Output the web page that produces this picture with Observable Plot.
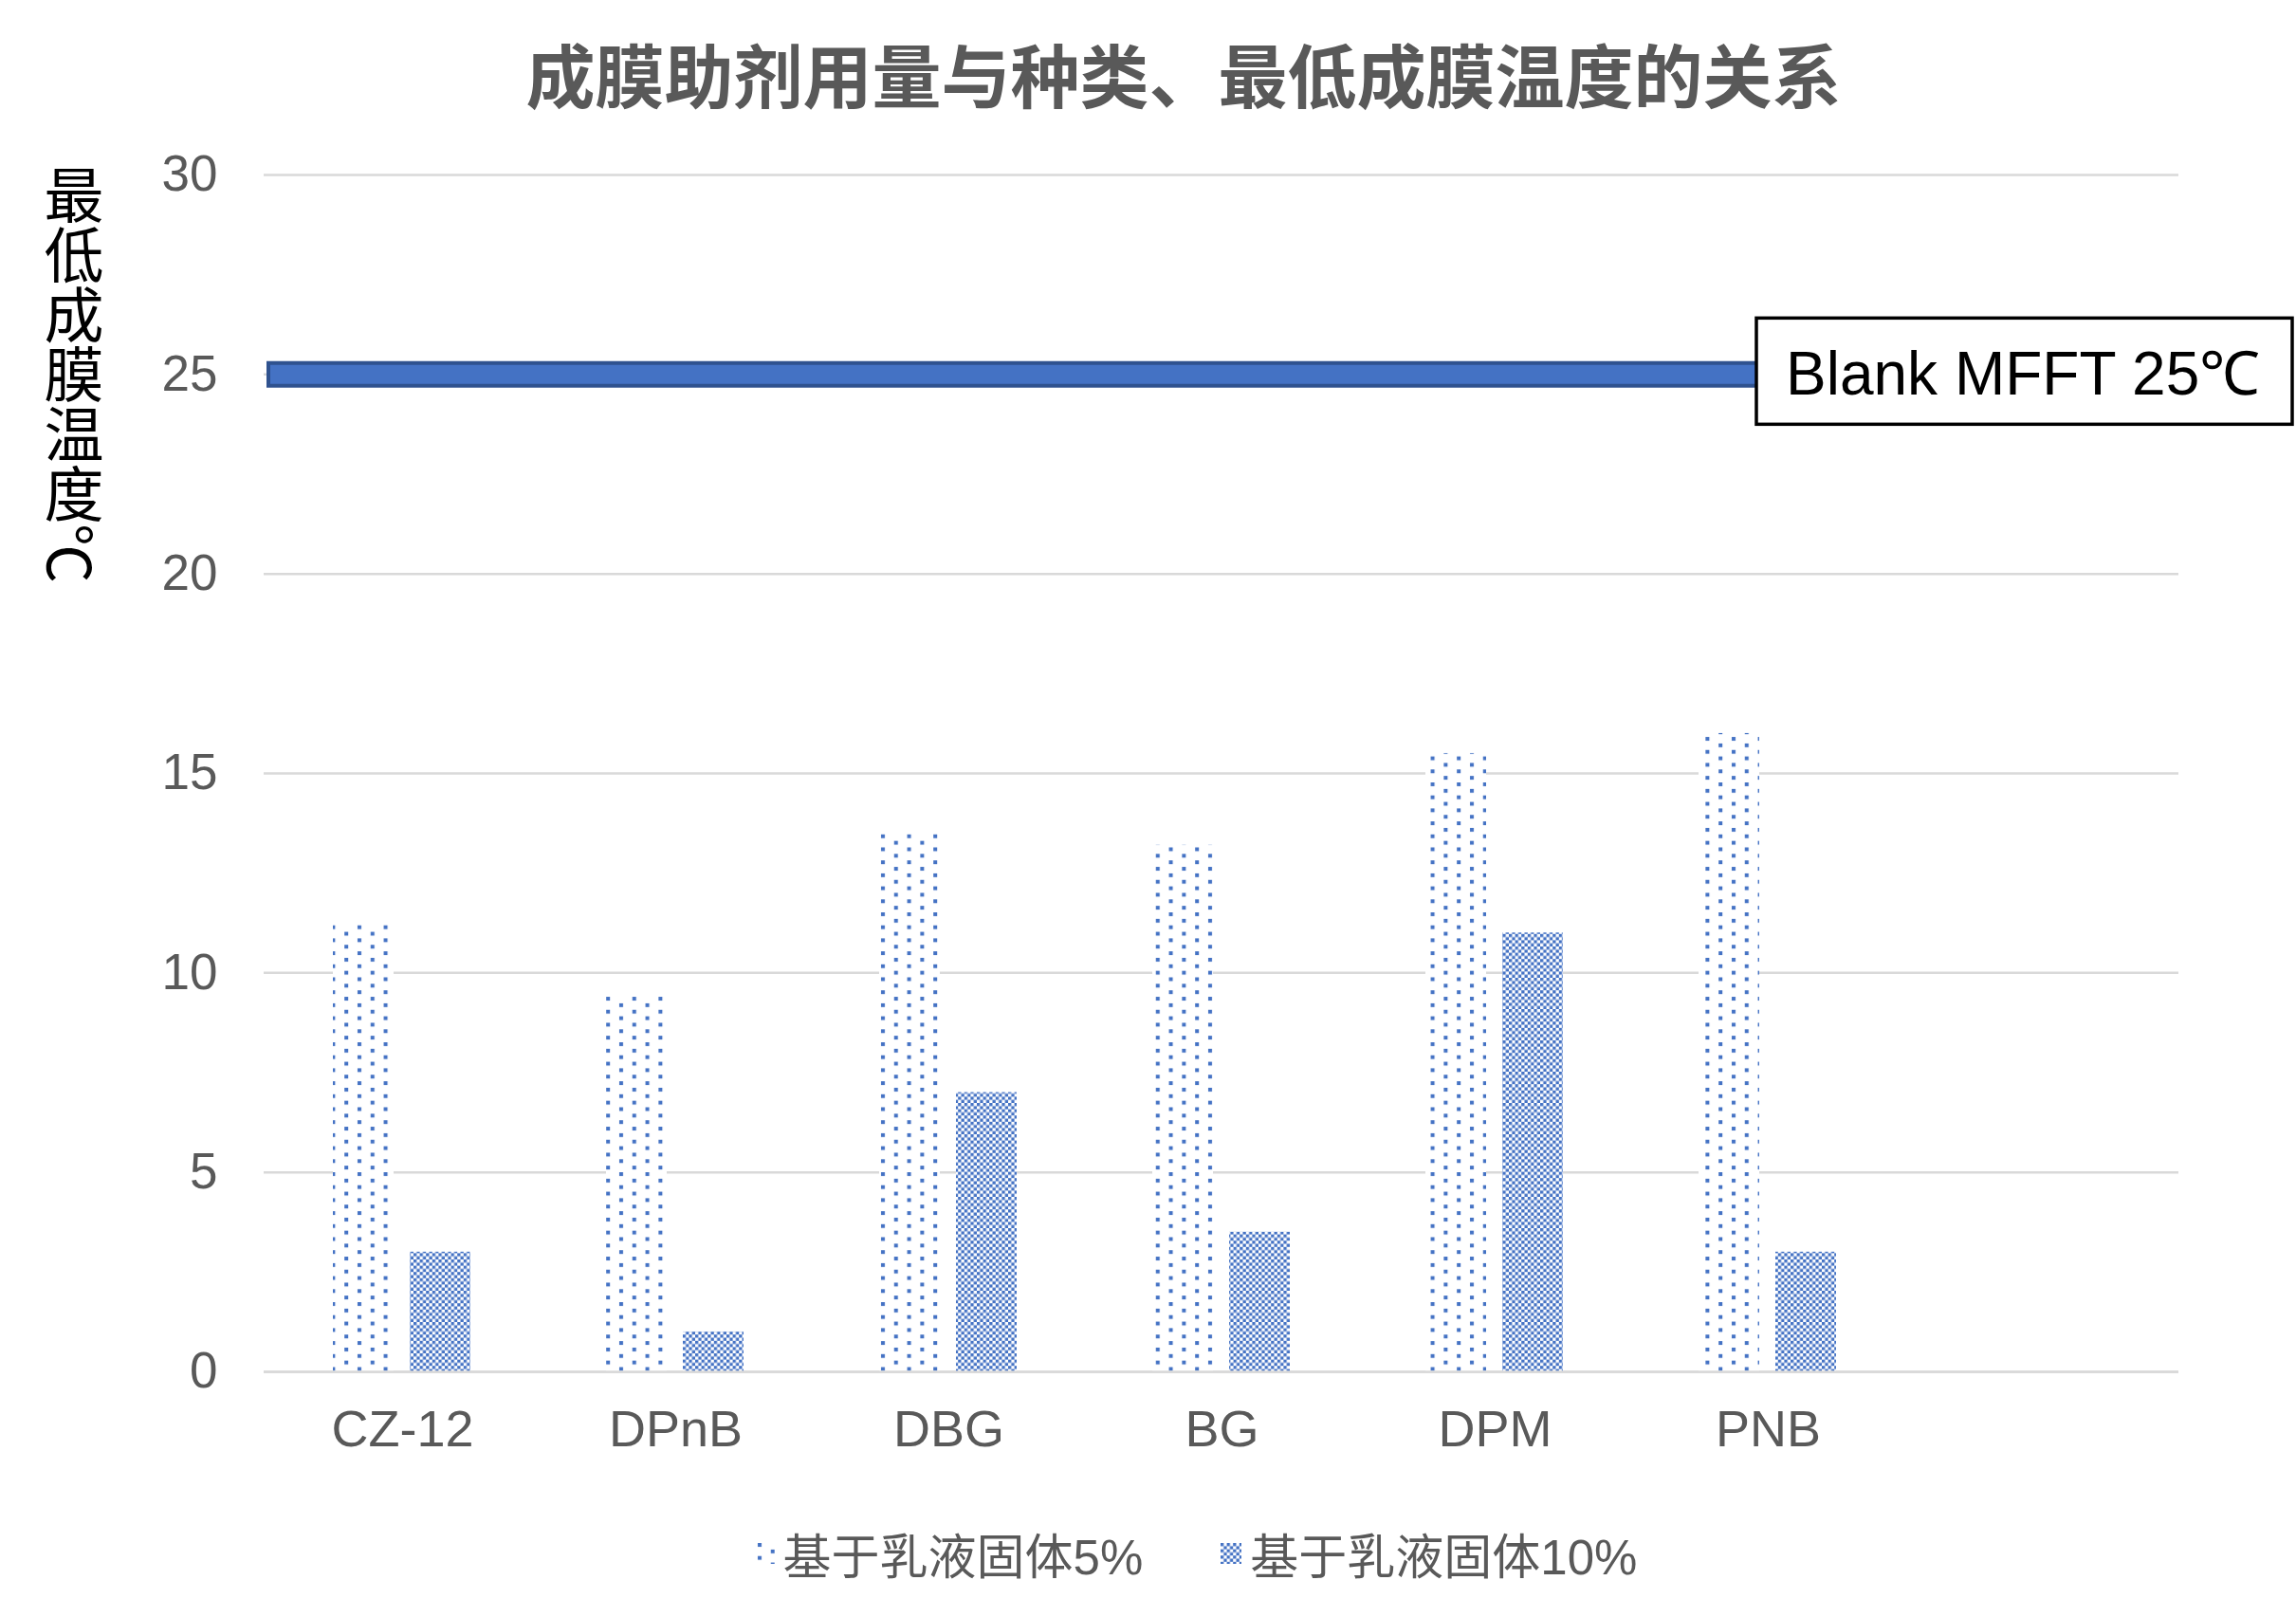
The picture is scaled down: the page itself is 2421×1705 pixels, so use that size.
<!DOCTYPE html>
<html>
<head>
<meta charset="utf-8">
<script src="https://cdn.jsdelivr.net/npm/d3@7"></script>
<script src="https://cdn.jsdelivr.net/npm/@observablehq/plot@0.6"></script>
<style>
  html, body { margin: 0; padding: 0; background: #fff; }
  #root { position: relative; width: 2421px; height: 1705px; overflow: hidden; background: #fff; }
  #title { position: absolute; left: 1248px; top: 40px; transform: translateX(-50%);
           font-family: "Noto Sans CJK SC", sans-serif; font-weight: bold; font-size: 73px;
           line-height: 73px; color: #595959; white-space: nowrap; }
  #chart { position: absolute; left: 0; top: 140px; }
  #ylabel { position: absolute; left: 46px; top: 174px; writing-mode: vertical-rl;
            font-family: "Noto Sans CJK SC", sans-serif; font-size: 63px; line-height: 63px; color: #000; }
  #ylabel .side { display: inline-block; writing-mode: horizontal-tb; transform: rotate(90deg);
                  line-height: 63px; }
  #legend { position: absolute; left: 0; top: 1606px; width: 2421px; height: 64px; box-sizing: border-box;
            padding-left: 100px; display: flex; justify-content: center; align-items: center; gap: 82px;
            font-family: "Liberation Sans", "Noto Sans CJK SC", sans-serif; font-size: 51px; color: #595959; }
  #legend .item { display: flex; align-items: center; white-space: nowrap; }
  #legend svg { margin-right: 9px; display: block; }
</style>
</head>
<body>
<div id="root">
  <div id="title"></div>
  <div id="chart"></div>
  <div id="ylabel"></div>
  <div id="legend"></div>
</div>
<script>
// ---- data ----
const title = "成膜助剂用量与种类、最低成膜温度的关系";
const yLabel = "最低成膜温度℃";
const categories = ["CZ-12", "DPnB", "DBG", "BG", "DPM", "PNB", ""];
const seriesNames = ["基于乳液固体5%", "基于乳液固体10%"];
const values5 = [11.2, 9.4, 13.5, 13.2, 15.5, 16.0];
const values10 = [3, 1, 7, 3.5, 11, 3];
const yTicks = [0, 5, 10, 15, 20, 25, 30];
const blankMFFT = 25;
const blankLabel = "Blank MFFT 25℃";

const rows5 = values5.map((v, i) => ({category: categories[i], series: seriesNames[0], value: v}));
const rows10 = values10.map((v, i) => ({category: categories[i], series: seriesNames[1], value: v}));

const BLUE = "#4472C4";
const DARK = "#2F528F";

function addPatterns(defs, prefix) {
  const p1 = defs.append("pattern").attr("id", prefix + "dots")
    .attr("patternUnits", "userSpaceOnUse").attr("width", 27.6).attr("height", 13.7);
  p1.append("rect").attr("width", 27.6).attr("height", 13.7).attr("fill", "#fff");
  p1.append("rect").attr("x", 4).attr("y", 0).attr("width", 4).attr("height", 4).attr("fill", BLUE);
  p1.append("rect").attr("x", 17.8).attr("y", 6.85).attr("width", 4).attr("height", 4).attr("fill", BLUE);
  const p2 = defs.append("pattern").attr("id", prefix + "check")
    .attr("patternUnits", "userSpaceOnUse").attr("width", 6.6).attr("height", 6.6);
  p2.append("rect").attr("width", 6.6).attr("height", 6.6).attr("fill", "#fff");
  p2.append("rect").attr("x", 0).attr("y", 0).attr("width", 3.3).attr("height", 3.3).attr("fill", BLUE);
  p2.append("rect").attr("x", 3.3).attr("y", 3.3).attr("width", 3.3).attr("height", 3.3).attr("fill", BLUE);
}

const defsMark = () => {
  const d = d3.create("svg:defs");
  addPatterns(d, "p-");
  return d.node();
};

const blankBox = (index, scales) => {
  const y = scales.y(blankMFFT);
  const g = d3.create("svg:g");
  g.append("rect").attr("x", 1852).attr("y", y - 59).attr("width", 565).attr("height", 112)
    .attr("fill", "#fff").attr("stroke", "#000").attr("stroke-width", 3.5);
  g.append("text").attr("x", 1883).attr("y", y + 22)
    .attr("text-anchor", "start")
    .attr("font-family", "Liberation Sans, Arial, sans-serif").attr("font-size", 64)
    .attr("fill", "#000").text(blankLabel);
  return g.node();
};

const plot = Plot.plot({
  width: 2421,
  height: 1440,
  marginTop: 44,
  marginBottom: 134,
  marginLeft: 278,
  marginRight: 124,
  style: {fontFamily: "Liberation Sans, Arial, sans-serif", background: "transparent", overflow: "visible"},
  x: {domain: categories, paddingInner: 0.778, paddingOuter: 0.389},
  y: {domain: [0, 30]},
  marks: [
    defsMark,
    Plot.gridY(yTicks, {stroke: "#D9D9D9", strokeOpacity: 1, strokeWidth: 2.5}),
    Plot.barY(rows5, {x: "category", y: "value", fill: "url(#p-dots)", dx: -41}),
    Plot.barY(rows10, {x: "category", y: "value", fill: "url(#p-check)", dx: 40}),
    Plot.ruleY([0], {stroke: "#D9D9D9", strokeWidth: 2.5}),
    Plot.ruleY([blankMFFT], {stroke: DARK, strokeWidth: 28, insetLeft: 3}),
    Plot.ruleY([blankMFFT], {stroke: BLUE, strokeWidth: 20, insetLeft: 7}),
    blankBox,
    Plot.axisY(yTicks, {tickSize: 0, tickPadding: 49, fontSize: 53, fill: "#595959", label: null}),
    Plot.axisX({tickSize: 0, tickPadding: 40, fontSize: 54, fill: "#595959", label: null})
  ]
});
document.getElementById("chart").appendChild(plot);

document.getElementById("title").textContent = title;

const yl = document.getElementById("ylabel");
const s1 = document.createElement("span");
s1.textContent = yLabel.slice(0, -1);
const s2 = document.createElement("span");
s2.className = "side";
s2.textContent = yLabel.slice(-1);
yl.appendChild(s1); yl.appendChild(s2);

// legend
const legend = d3.select("#legend");
seriesNames.forEach((name, i) => {
  const item = legend.append("div").attr("class", "item");
  const sw = item.append("svg").attr("width", 22).attr("height", 22);
  addPatterns(sw.append("defs"), "lg" + i + "-");
  sw.append("rect").attr("width", 22).attr("height", 22)
    .attr("fill", i === 0 ? "url(#lg0-dots)" : "url(#lg1-check)");
  item.append("span").text(name);
});
</script>
</body>
</html>
